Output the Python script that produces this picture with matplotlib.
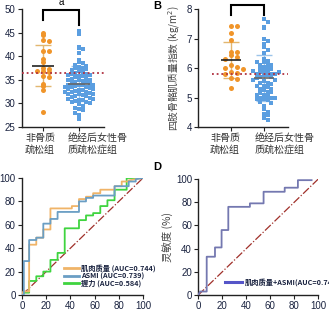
import numpy as np
import matplotlib
matplotlib.use("Agg")
import matplotlib.pyplot as plt
from matplotlib.lines import Line2D

plt.rcParams['font.family'] = ['Liberation Sans', 'Noto Sans CJK SC', 'DejaVu Sans']
CJK = ['Noto Sans CJK SC', 'DejaVu Sans']

# == data == #
groups = ['非骨质\n疏松组', '绝经后女性骨\n质疏松症组']

a_non = [45.0, 44.4, 43.4, 43.2, 41.2, 41.2, 39.4, 38.7, 37.6, 37.2, 36.9,
         36.7, 36.9, 35.8, 35.5, 34.2, 33.7, 32.9, 28.1]
a_op = [45.3, 44.6, 42.0, 41.8, 41.6, 40.6, 39.3, 38.8, 38.5, 38.2, 38.0,
        37.8, 37.6, 37.4, 37.2, 37.0, 36.8, 36.7, 36.5, 36.3, 36.2, 36.0,
        35.8, 35.7, 35.5, 35.4, 35.2, 35.0, 34.9, 34.8, 34.6, 34.5, 34.4,
        34.2, 34.0, 33.9, 33.8, 33.6, 33.5, 33.4, 33.2, 33.0, 32.9, 32.8,
        32.6, 32.5, 32.4, 32.2, 32.0, 31.9, 31.8, 31.6, 31.5, 31.3, 31.2,
        31.0, 30.8, 30.7, 30.5, 30.4, 30.2, 30.0, 29.8, 29.5, 29.0, 28.8,
        28.5, 28.0, 27.5, 26.8, 34.0, 33.0, 32.0, 35.0, 36.0, 31.0, 33.5, 32.5]
a_cut = 36.4

b_non = [7.42, 7.42, 7.2, 6.94, 6.55, 6.53, 6.44, 6.38, 6.3, 6.1, 6.05, 6.0,
         5.95, 5.86, 5.82, 5.8, 5.67, 5.63, 5.32]
b_op = [7.65, 7.55, 7.4, 7.35, 7.0, 6.9, 6.8, 6.7, 6.6, 6.5, 6.3, 6.25, 6.2,
        6.15, 6.1, 6.05, 6.0, 6.0, 5.95, 5.9, 5.9, 5.85, 5.8, 5.8, 5.78, 5.75,
        5.75, 5.7, 5.7, 5.65, 5.6, 5.55, 5.5, 5.5, 5.45, 5.4, 5.35, 5.3, 5.3,
        5.25, 5.2, 5.15, 5.1, 5.05, 5.0, 5.0, 4.95, 4.9, 4.85, 4.8, 4.7, 4.6,
        4.5, 4.45, 4.4, 4.3, 4.25, 6.1, 5.9, 5.6, 5.4, 5.1, 5.0, 4.95, 6.2,
        5.85, 5.2]
b_cut = 5.78

# ROC curves (1-specificity %, sensitivity %)
roc_mass_x = [0, 1, 5.9, 5.9, 11.8, 11.8, 17.6, 17.6, 23.5, 23.5, 41.2, 41.2,
              47.1, 47.1, 52.9, 52.9, 58.8, 58.8, 64.7, 64.7, 76.5, 76.5,
              82.4, 82.4, 88.2, 88.2, 100]
roc_mass_y = [0, 3, 3, 43, 43, 49, 49, 56, 56, 74, 74, 76, 76, 82, 82, 84,
              84, 87, 87, 90, 90, 93, 93, 97, 97, 98, 100]
roc_asmi_x = [0, 1.5, 1.5, 5.9, 5.9, 11.8, 11.8, 17.6, 17.6, 23.5, 23.5,
              29.4, 29.4, 47.1, 47.1, 52.9, 52.9, 58.8, 58.8, 76.5, 76.5,
              88.2, 88.2, 94, 94, 100]
roc_asmi_y = [0, 0, 29, 29, 47, 47, 49, 49, 61, 61, 65, 65, 71, 71, 80, 80,
              83, 83, 85, 85, 93, 93, 97, 97, 99, 100]
roc_grip_x = [0, 1.5, 5.9, 5.9, 11.8, 11.8, 17.6, 17.6, 23.5, 23.5, 29.4,
              29.4, 35.3, 35.3, 47.1, 47.1, 52.9, 52.9, 58.8, 58.8, 64.7,
              64.7, 70.6, 70.6, 76.5, 76.5, 86.5, 86.5, 100]
roc_grip_y = [0, 2, 2, 12, 12, 16, 16, 20, 20, 30, 30, 36, 36, 57, 57, 64,
              64, 68, 68, 70, 70, 76, 76, 81, 81, 90, 90, 100, 100]
roc_comb_x = [0, 1.5, 7, 7, 13.9, 13.9, 19.4, 19.4, 25, 25, 43, 43, 54.4,
              54.4, 72, 72, 83, 83, 94.4]
roc_comb_y = [0, 3, 3, 33, 33, 41, 41, 56, 56, 76, 76, 79, 79, 89, 89, 92.5,
              92.5, 99, 99]

roc_labels = ['肌肉质量 (AUC=0.744)', 'ASMI (AUC=0.739)', '握力 (AUC=0.584)']
comb_label = '肌肉质量+ASMI(AUC=0.746)'

ORANGE = '#f0952a'
BLUE = '#5b9ee0'
TICKC = '#1a2340'


def swarm_x(vals, center, ybin, dx):
    vals = np.asarray(vals)
    xs = np.empty(len(vals))
    bins = np.floor(vals / ybin).astype(int)
    for b in np.unique(bins):
        idx = np.where(bins == b)[0]
        for k, i in enumerate(idx):
            off = ((k + 1) // 2) * (1 if k % 2 else -1)
            xs[i] = center + off * dx
    return xs


def style(ax):
    for s in ['top', 'right']:
        ax.spines[s].set_visible(False)
    for s in ['left', 'bottom']:
        ax.spines[s].set_linewidth(1.0)
        ax.spines[s].set_color('#222222')
    ax.tick_params(length=3, width=0.8, labelsize=7, colors='#222222',
                   labelcolor=TICKC, pad=1.5)


W, H = 329, 318
fig = plt.figure(figsize=(W / 100, H / 100), dpi=100)


def box(l, r, t, b):
    return [l / W, 1 - b / H, (r - l) / W, (b - t) / H]


def dot_panel(ax, non, op, cut, dxs, ybins, cut_from, bracket, alab):
    x0 = swarm_x(non, 0, ybins[0], dxs[0])
    x1 = swarm_x(op, 1, ybins[1], dxs[1])
    for c, v, col in [(0, non, '#e2b770'), (1, op, '#9cc4ea')]:
        m, s = np.mean(v), np.std(v, ddof=1)
        ax.errorbar(c, m, yerr=s, color=col, capsize=6, capthick=1.0,
                    elinewidth=1.0, zorder=2)
    ax.scatter(x0, non, s=13, color=ORANGE, zorder=3, linewidths=0)
    ax.scatter(x1, op, s=7, marker='s', color=BLUE, zorder=3, linewidths=0)
    ax.hlines(np.mean(non), -0.3, 0.3, color='#222222', lw=1.2, zorder=4)
    ax.hlines(np.mean(op), 0.7, 1.3, color='#666666', lw=1.2, zorder=4)
    ax.plot([cut_from, ax.get_xlim()[1]], [cut, cut], ls=(0, (1, 1.6)),
            color='#b03040', lw=1.3, zorder=5, clip_on=False)
    yl, yt, yr = bracket
    ax.plot([0, 0, 1, 1], [yl, yt, yt, yr], color='black', lw=1.5,
            clip_on=False, solid_joinstyle='miter')
    ax.text(0.5, alab, 'a', ha='center', va='center', fontsize=7,
            clip_on=False)
    ax.set_xticks([0, 1])
    ax.set_xticklabels([])


# == Panel A == #
axA = fig.add_axes(box(22, 104, 9, 127))
axA.set_xlim(-0.583, 1.694)
axA.set_ylim(25, 50)
style(axA)
axA.set_yticks(range(25, 51, 5))
dot_panel(axA, a_non, a_op, a_cut, (0.17, 0.1), (1.0, 1.0), -0.583,
          (47.7, 49.8, 46.6), 51.4)
for xl, g in zip([-0.5, 0.695], groups):
    axA.text(xl, -0.05, g, transform=axA.get_xaxis_transform(), ha='left',
             va='top', fontsize=7.2, family=CJK, color='#333333',
             linespacing=1.25)

# == Panel B == #
axB = fig.add_axes(box(198, 288, 9, 127))
axB.set_xlim(-1.0, 1.727)
axB.set_ylim(4, 8)
style(axB)
axB.set_yticks(range(4, 9))
dot_panel(axB, b_non, b_op, b_cut, (0.18, 0.11), (0.17, 0.16), -0.58,
          (7.8, 8.14, 7.8), 8.45)
for xl, g in zip([-0.636, 0.727], groups):
    axB.text(xl, -0.05, g, transform=axB.get_xaxis_transform(), ha='left',
             va='top', fontsize=7.2, family=CJK, color='#333333',
             linespacing=1.25)
axB.set_ylabel('四肢骨骼肌质量指数 (kg/m$^2$)', family=CJK, fontsize=7,
               color='#444444', labelpad=3)
fig.text(157 / W, 1 - 6 / H, 'B', fontsize=8, weight='bold', ha='center',
         va='center')

# == Panel C == #
axC = fig.add_axes(box(22, 143, 178, 295))
axC.set_xlim(0, 100)
axC.set_ylim(0, 100)
style(axC)
axC.set_xticks(range(0, 101, 20))
axC.set_yticks(range(0, 101, 20))
axC.plot([0, 100], [0, 100], color='#a0302a', lw=0.9, ls='-.', zorder=1)
axC.plot(roc_mass_x, roc_mass_y, color='#f0b468', lw=1.3, zorder=3)
axC.plot(roc_asmi_x, roc_asmi_y, color='#6a9ec4', lw=1.3, zorder=3)
axC.plot(roc_grip_x, roc_grip_y, color='#3fd43f', lw=1.3, zorder=2)
hc = [Line2D([], [], color=c, lw=2) for c in ['#f0b468', '#6a9ec4', '#3fd43f']]
legC = axC.legend(hc, roc_labels, loc='upper left',
                  bbox_to_anchor=(64 / W, 1 - 264 / H),
                  bbox_transform=fig.transFigure, frameon=False,
                  prop={'family': CJK, 'size': 5.2, 'weight': 'bold'},
                  handlelength=2.1, handletextpad=0.3, labelspacing=0.05,
                  borderpad=0, borderaxespad=0)
for t in legC.get_texts():
    t.set_color(TICKC)
fig.text(157 / W, 1 - 167 / H, 'D', fontsize=8, weight='bold', ha='center',
         va='center')

# == Panel D == #
axD = fig.add_axes(box(198.3, 318.3, 179, 295))
axD.set_xlim(0, 100)
axD.set_ylim(0, 100)
style(axD)
axD.set_xticks(range(0, 101, 20))
axD.set_yticks(range(0, 101, 20))
axD.plot([0, 100], [0, 100], color='#a0302a', lw=0.9, ls='-.', zorder=1)
axD.plot(roc_comb_x, roc_comb_y, color='#7478b0', lw=1.3, zorder=3)
axD.set_ylabel('灵敏度 (%)', family=CJK, fontsize=7.5, color='#444444',
               labelpad=2)
fig.add_artist(Line2D([225 / W, 242 / W], [1 - 282 / H] * 2, color='#5555c8',
                      lw=2.2))
fig.text(245 / W, 1 - 282 / H, comb_label, family=CJK, fontsize=5.2,
         weight='bold', color=TICKC, va='center', ha='left')

fig.savefig('out.png', dpi=100)
